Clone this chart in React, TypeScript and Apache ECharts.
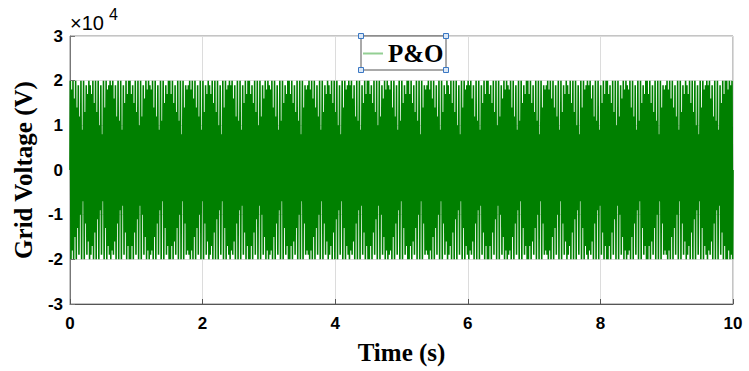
import React, { useEffect, useRef } from "react";
import * as echarts from "echarts";

// Time axis (s) and voltage axis (x10^4 V) tick values
const timeTicks = [0, 2, 4, 6, 8, 10];
const voltageTicks = [-3, -2, -1, 0, 1, 2, 3];
const seriesName = "P&O";
const tEnd = 10;

// Positive peak of each 50 Hz cycle, in kV
const upperPeaksKV = [
  20,18,20,16,20,14,19,12,20,9,20,13,19,17,20,
  19,17,20,15,20,13,20,10,19,8,20,14,20,18,19,
  20,19,20,16,19,12,20,11,20,9,19,15,20,17,20,
  20,17,19,15,20,13,20,10,20,12,19,16,20,18,20,
  19,18,20,14,20,12,19,9,20,11,20,15,19,17,20,
  20,17,20,15,19,13,20,11,20,8,20,14,19,18,19,
  20,18,20,16,20,14,19,12,20,9,20,13,19,17,20,
  19,17,20,15,20,13,20,10,19,8,20,14,20,18,19,
  20,19,20,16,19,12,20,11,20,9,19,15,20,17,20,
  20,17,19,15,20,13,20,10,20,12,19,16,20,18,20,
  19,18,20,14,20,12,19,9,20,11,20,15,19,17,20,
  20,17,20,15,19,13,20,11,20,8,20,14,19,18,19,
  20,18,20,16,20,14,19,12,20,9,20,13,19,17,20,
  19,17,20,15,20,13,20,10,19,8,20,14,20,18,19,
  20,19,20,16,19,12,20,11,20,9,19,15,20,17,20,
  20,17,19,15,20,13,20,10,20,12,19,16,20,18,20,
  19,18,20,14,20,12,19,9,20,11,20,15,19,17,20,
  20,17,20,15,19,13,20,11,20,8,20,14,19,18,19,
  20,18,20,16,20,14,19,12,20,9,20,13,19,17,20,
  19,17,20,15,20,13,20,10,19,8,20,14,20,18,19,
  20,19,20,16,19,12,20,11,20,9,19,15,20,17,20,
  20,17,19,15,20,13,20,10,20,12,19,16,20,18,20,
  19,18,20,14,20,12,19,9,20,11,20,15,19,17,20,
  20,17,20,15,19,13,20,11,20,8,20,14,19,18,19,
  20,18,20,16,20,14,19,12,20,9,20,13,19,17,20,
  19,17,20,15,20,13,20,10,19,8,20,14,20,18,19,
  20,19,20,16,19,12,20,11,20,9,19,15,20,17,20,
  20,17,19,15,20,13,20,10,20,12,19,16,20,18,20,
  19,18,20,14,20,12,19,9,20,11,20,15,19,17,20,
  20,17,20,15,19,13,20,11,20,8,20,14,19,18,19,
  20,18,20,16,20,14,19,12,20,9,20,13,19,17,20,
  19,17,20,15,20,13,20,10,19,8,20,14,20,18,19,
  20,19,20,16,19,12,20,11,20,9,19,15,20,17,20,
  20,18,20,19,20,
];

// Negative peak of each 50 Hz cycle, in kV
const lowerPeaksKV = [
  -20,-18,-20,-15,-20,-13,-19,-10,-20,-7,-20,-12,-19,-16,-20,
  -19,-17,-20,-14,-20,-11,-20,-9,-19,-7,-20,-13,-20,-17,-19,
  -20,-18,-19,-16,-20,-12,-20,-9,-20,-8,-19,-14,-20,-17,-20,
  -20,-17,-20,-14,-19,-11,-20,-8,-20,-10,-19,-15,-20,-18,-20,
  -19,-18,-20,-15,-20,-12,-19,-9,-20,-7,-20,-13,-19,-17,-20,
  -20,-17,-20,-16,-19,-13,-20,-10,-20,-7,-20,-12,-19,-18,-19,
  -20,-18,-20,-15,-20,-13,-19,-10,-20,-7,-20,-12,-19,-16,-20,
  -19,-17,-20,-14,-20,-11,-20,-9,-19,-7,-20,-13,-20,-17,-19,
  -20,-18,-19,-16,-20,-12,-20,-9,-20,-8,-19,-14,-20,-17,-20,
  -20,-17,-20,-14,-19,-11,-20,-8,-20,-10,-19,-15,-20,-18,-20,
  -19,-18,-20,-15,-20,-12,-19,-9,-20,-7,-20,-13,-19,-17,-20,
  -20,-17,-20,-16,-19,-13,-20,-10,-20,-7,-20,-12,-19,-18,-19,
  -20,-18,-20,-15,-20,-13,-19,-10,-20,-7,-20,-12,-19,-16,-20,
  -19,-17,-20,-14,-20,-11,-20,-9,-19,-7,-20,-13,-20,-17,-19,
  -20,-18,-19,-16,-20,-12,-20,-9,-20,-8,-19,-14,-20,-17,-20,
  -20,-17,-20,-14,-19,-11,-20,-8,-20,-10,-19,-15,-20,-18,-20,
  -19,-18,-20,-15,-20,-12,-19,-9,-20,-7,-20,-13,-19,-17,-20,
  -20,-17,-20,-16,-19,-13,-20,-10,-20,-7,-20,-12,-19,-18,-19,
  -20,-18,-20,-15,-20,-13,-19,-10,-20,-7,-20,-12,-19,-16,-20,
  -19,-17,-20,-14,-20,-11,-20,-9,-19,-7,-20,-13,-20,-17,-19,
  -20,-18,-19,-16,-20,-12,-20,-9,-20,-8,-19,-14,-20,-17,-20,
  -20,-17,-20,-14,-19,-11,-20,-8,-20,-10,-19,-15,-20,-18,-20,
  -19,-18,-20,-15,-20,-12,-19,-9,-20,-7,-20,-13,-19,-17,-20,
  -20,-17,-20,-16,-19,-13,-20,-10,-20,-7,-20,-12,-19,-18,-19,
  -20,-18,-20,-15,-20,-13,-19,-10,-20,-7,-20,-12,-19,-16,-20,
  -19,-17,-20,-14,-20,-11,-20,-9,-19,-7,-20,-13,-20,-17,-19,
  -20,-18,-19,-16,-20,-12,-20,-9,-20,-8,-19,-14,-20,-17,-20,
  -20,-17,-20,-14,-19,-11,-20,-8,-20,-10,-19,-15,-20,-18,-20,
  -19,-18,-20,-15,-20,-12,-19,-9,-20,-7,-20,-13,-19,-17,-20,
  -20,-17,-20,-16,-19,-13,-20,-10,-20,-7,-20,-12,-19,-18,-19,
  -20,-18,-20,-15,-20,-13,-19,-10,-20,-7,-20,-12,-19,-16,-20,
  -19,-17,-20,-14,-20,-11,-20,-9,-19,-7,-20,-13,-20,-17,-19,
  -20,-18,-19,-16,-20,-12,-20,-9,-20,-8,-19,-14,-20,-17,-20,
  -20,-18,-20,-19,-20,
];

function buildSeriesData(): number[][] {
  const n = Math.min(upperPeaksKV.length, lowerPeaksKV.length);
  const period = tEnd / n;
  const pts: number[][] = [[0, 0]];
  for (let i = 0; i < n; i++) {
    pts.push([(i + 0.25) * period, upperPeaksKV[i] * 1000]);
    pts.push([(i + 0.75) * period, lowerPeaksKV[i] * 1000]);
  }
  pts.push([tEnd, 0]);
  return pts;
}

export default function App() {
  const ref = useRef<HTMLDivElement>(null);

  useEffect(() => {
    if (!ref.current) return;
    const chart = echarts.init(ref.current, undefined, { renderer: "svg" });
    const tickFont = {
      fontFamily: "Liberation Sans",
      fontWeight: "bold" as const,
      fontSize: 17,
      color: "#000",
    };
    const titleFont = {
      fontFamily: "Liberation Serif",
      fontWeight: "bold" as const,
      fontSize: 25,
      color: "#000",
    };
    const handle = (cx: number, cy: number) => ({
      type: "rect",
      z: 10,
      shape: { x: cx - 2.5, y: cy - 2.5, width: 5, height: 5 },
      style: { fill: "#dce8f6", stroke: "#3b78c4", lineWidth: 1 },
    });
    const option = {
      animation: false,
      backgroundColor: "#fff",
      grid: {
        left: 70,
        right: 16,
        top: 36,
        bottom: 67,
        show: true,
        borderColor: "#8a8a8a",
        borderWidth: 1,
        backgroundColor: "#fff",
      },
      xAxis: {
        type: "value",
        min: timeTicks[0],
        max: timeTicks[timeTicks.length - 1],
        interval: 2,
        axisLine: { show: true, onZero: false, lineStyle: { color: "#555" } },
        axisTick: { show: true, inside: true, length: 5, lineStyle: { color: "#555" } },
        axisLabel: { ...tickFont, margin: 11 },
        splitLine: { show: true, lineStyle: { color: "#dcdcdc", width: 1 } },
        name: "Time (s)",
        nameLocation: "middle",
        nameGap: 36,
        nameTextStyle: titleFont,
      },
      yAxis: {
        type: "value",
        min: voltageTicks[0] * 10000,
        max: voltageTicks[voltageTicks.length - 1] * 10000,
        interval: 10000,
        axisLine: { show: true, onZero: false, lineStyle: { color: "#777" } },
        axisTick: { show: true, inside: true, length: 5, lineStyle: { color: "#777" } },
        axisLabel: {
          ...tickFont,
          margin: 7,
          formatter: (v: number) => String(Math.round(v / 10000)),
        },
        splitLine: { show: true, lineStyle: { color: "#dcdcdc", width: 1 } },
        name: "Grid Voltage (V)",
        nameLocation: "middle",
        nameRotate: 90,
        nameGap: 34,
        nameTextStyle: titleFont,
      },
      legend: {
        left: 363,
        top: 41,
        padding: 0,
        itemWidth: 20,
        itemHeight: 2,
        itemGap: 5,
        z: 12,
        data: [
          {
            name: seriesName,
            icon: "rect",
            itemStyle: { color: "#93cf93" },
          },
        ],
        textStyle: { ...titleFont, lineHeight: 24 },
      },
      graphic: [
        {
          type: "rect",
          z: 9,
          shape: { x: 361, y: 36, width: 85, height: 34 },
          style: { fill: "#fff", stroke: "#555", lineWidth: 1 },
        },
        handle(361, 36),
        handle(446, 36),
        handle(361, 70),
        handle(446, 70),
        {
          type: "text",
          x: 70,
          y: 13,
          style: { text: "×10", font: '20px "Liberation Sans"', fill: "#000" },
        },
        {
          type: "text",
          x: 109,
          y: 6,
          style: { text: "4", font: '16px "Liberation Sans"', fill: "#000" },
        },
      ],
      series: [
        {
          name: seriesName,
          type: "line",
          data: buildSeriesData(),
          symbol: "none",
          showSymbol: false,
          smooth: false,
          clip: true,
          lineStyle: { color: "#008000", width: 1.6 },
          itemStyle: { color: "#008000" },
          z: 2,
        },
      ],
    };
    chart.setOption(option as any);
    return () => chart.dispose();
  }, []);

  return (
    <div
      ref={ref}
      style={{ position: "fixed", left: 0, top: 0, width: 749, height: 371 }}
    />
  );
}
